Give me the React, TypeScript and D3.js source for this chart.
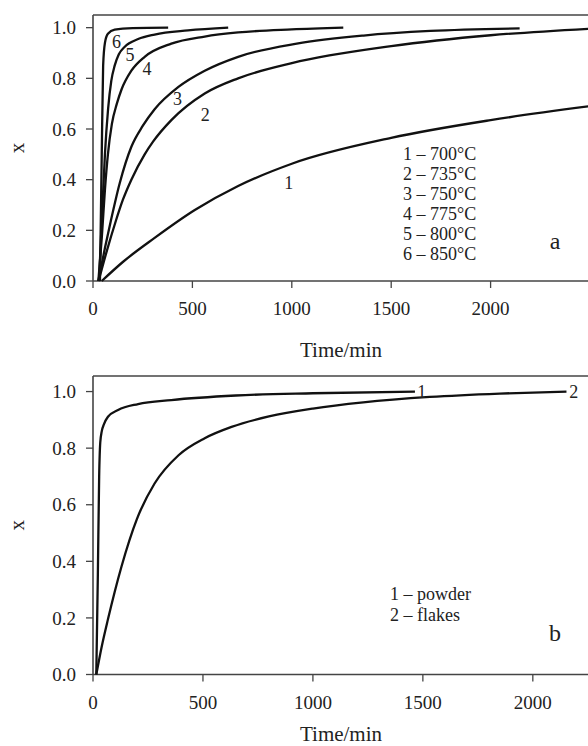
import React from "react";
import * as d3 from "d3";

// ---- Panel a data (time/min, x) ----
const aSeriesNames = ["1", "2", "3", "4", "5", "6"];
const aLegend = ["1 – 700°C", "2 – 735°C", "3 – 750°C", "4 – 775°C", "5 – 800°C", "6 – 850°C"];
const a1: [number, number][] = [[44, 0], [150, 0.075], [310, 0.17], [512, 0.28], [730, 0.375], [1000, 0.463], [1500, 0.565], [2000, 0.635], [2500, 0.69]];
const a2: [number, number][] = [[28, 0], [70, 0.12], [112, 0.23], [150, 0.32], [193, 0.4], [260, 0.5], [302, 0.55], [394, 0.635], [562, 0.74], [730, 0.8], [1000, 0.86], [1500, 0.927], [2000, 0.97], [2500, 0.996]];
const a3: [number, number][] = [[27, 0], [60, 0.13], [89, 0.235], [134, 0.385], [193, 0.53], [250, 0.612], [310, 0.678], [428, 0.765], [562, 0.83], [730, 0.885], [1025, 0.937], [1361, 0.969], [1697, 0.987], [2146, 0.997]];
const a4: [number, number][] = [[27, 0], [45, 0.18], [60, 0.36], [75, 0.5], [95, 0.62], [120, 0.7], [143, 0.755], [193, 0.83], [260, 0.885], [394, 0.937], [562, 0.965], [730, 0.981], [1000, 0.993], [1259, 1.0]];
const a5: [number, number][] = [[30, 0], [48, 0.3], [60, 0.5], [76, 0.68], [92, 0.79], [109, 0.85], [130, 0.895], [160, 0.925], [227, 0.955], [310, 0.973], [478, 0.989], [680, 1.0]];
const a6: [number, number][] = [[35, 0], [44, 0.5], [51, 0.85], [60, 0.94], [75, 0.976], [109, 0.992], [200, 0.998], [378, 1.0]];
const aSeries = [a1, a2, a3, a4, a5, a6];
const aLabelPos: [number, number][] = [[985, 0.39], [565, 0.655], [425, 0.72], [272, 0.84], [186, 0.893], [118, 0.943]];

// ---- Panel b data ----
const bLegend = ["1 – powder", "2 – flakes"];
const b1: [number, number][] = [[15, 0], [22, 0.35], [28, 0.7], [33, 0.82], [40, 0.86], [50, 0.885], [68, 0.911], [114, 0.935], [205, 0.956], [356, 0.97], [650, 0.986], [1000, 0.994], [1464, 1.0]];
const b2: [number, number][] = [[15, 0], [40, 0.1], [68, 0.195], [129, 0.38], [200, 0.55], [280, 0.675], [389, 0.775], [508, 0.835], [630, 0.875], [800, 0.912], [1000, 0.94], [1229, 0.962], [1532, 0.981], [1850, 0.993], [2153, 1.0]];
const bSeries = [b1, b2];
const bLabelPos: [number, number][] = [[1495, 1.0], [2186, 1.0]];

const xTicks = [0, 500, 1000, 1500, 2000];
const yTicks = [0, 0.2, 0.4, 0.6, 0.8, 1.0];

const FONT = "'Liberation Serif', 'Times New Roman', serif";

type PanelProps = {
  top: number;
  bottom: number;
  xMax: number;
  yMax: number;
  series: [number, number][][];
  labels: string[];
  labelPos: [number, number][];
  legend: string[];
  legendX: number;
  legendY: number;
  legendDy: number;
  letter: string;
  letterPos: [number, number];
  titleOffset: number;
};

function Panel(p: PanelProps) {
  const left = 93;
  const right = 590;
  const x = d3.scaleLinear().domain([0, p.xMax]).range([left, right]);
  const y = d3.scaleLinear().domain([0, p.yMax]).range([p.bottom, p.top]);
  const line = d3
    .line<[number, number]>()
    .x((d) => x(d[0]))
    .y((d) => y(d[1]))
    .curve(d3.curveMonotoneX);
  const frame = "#444";
  return (
    <g fontFamily={FONT} fill="#222">
      <line x1={left} x2={600} y1={p.top} y2={p.top} stroke={frame} strokeWidth={1.6} />
      <line x1={left} x2={600} y1={p.bottom} y2={p.bottom} stroke={frame} strokeWidth={1.6} />
      <line x1={left} x2={left} y1={p.top} y2={p.bottom} stroke={frame} strokeWidth={1.6} />
      {yTicks.map((t) => (
        <g key={"y" + t}>
          <line x1={left - 7} x2={left} y1={y(t)} y2={y(t)} stroke={frame} strokeWidth={1.3} />
          <text x={left - 17} y={y(t)} dy="0.35em" textAnchor="end" fontSize={19}>
            {d3.format(".1f")(t)}
          </text>
        </g>
      ))}
      {xTicks.map((t) => (
        <g key={"x" + t}>
          <line x1={x(t)} x2={x(t)} y1={p.bottom} y2={p.bottom + 7} stroke={frame} strokeWidth={1.3} />
          <text x={x(t)} y={p.bottom + 34} textAnchor="middle" fontSize={19}>
            {t}
          </text>
        </g>
      ))}
      <text x={341} y={p.bottom + p.titleOffset} textAnchor="middle" fontSize={21}>
        Time/min
      </text>
      <text
        transform={`translate(24, ${(p.top + p.bottom) / 2}) rotate(-90)`}
        textAnchor="middle"
        fontSize={21}
      >
        x
      </text>
      {p.series.map((s, i) => (
        <path key={"s" + i} d={line(s) || ""} fill="none" stroke="#111" strokeWidth={2.3} />
      ))}
      {p.labels.map((l, i) => (
        <text key={"l" + i} x={x(p.labelPos[i][0])} y={y(p.labelPos[i][1])} dy="0.35em" textAnchor="middle" fontSize={18}>
          {l}
        </text>
      ))}
      {p.legend.map((l, i) => (
        <text key={"g" + i} x={p.legendX} y={p.legendY + i * p.legendDy} fontSize={18}>
          {l}
        </text>
      ))}
      <text x={p.letterPos[0]} y={p.letterPos[1]} textAnchor="middle" fontSize={24}>
        {p.letter}
      </text>
    </g>
  );
}

export default function App() {
  return (
    <svg width={588} height={746} style={{ position: "absolute", left: 0, top: 0, background: "#fff" }}>
      <rect x={0} y={0} width={588} height={746} fill="#fff" />
      <Panel
        top={15}
        bottom={281}
        xMax={2500}
        yMax={1.05}
        series={aSeries}
        labels={aSeriesNames}
        labelPos={aLabelPos}
        legend={aLegend}
        legendX={403}
        legendY={160}
        legendDy={20}
        letter="a"
        letterPos={[555, 249]}
        titleOffset={76}
      />
      <Panel
        top={376}
        bottom={674.5}
        xMax={2260}
        yMax={1.055}
        series={bSeries}
        labels={["1", "2"]}
        labelPos={bLabelPos}
        legend={bLegend}
        legendX={390}
        legendY={600}
        legendDy={21}
        letter="b"
        letterPos={[555, 641]}
        titleOffset={66}
      />
    </svg>
  );
}
